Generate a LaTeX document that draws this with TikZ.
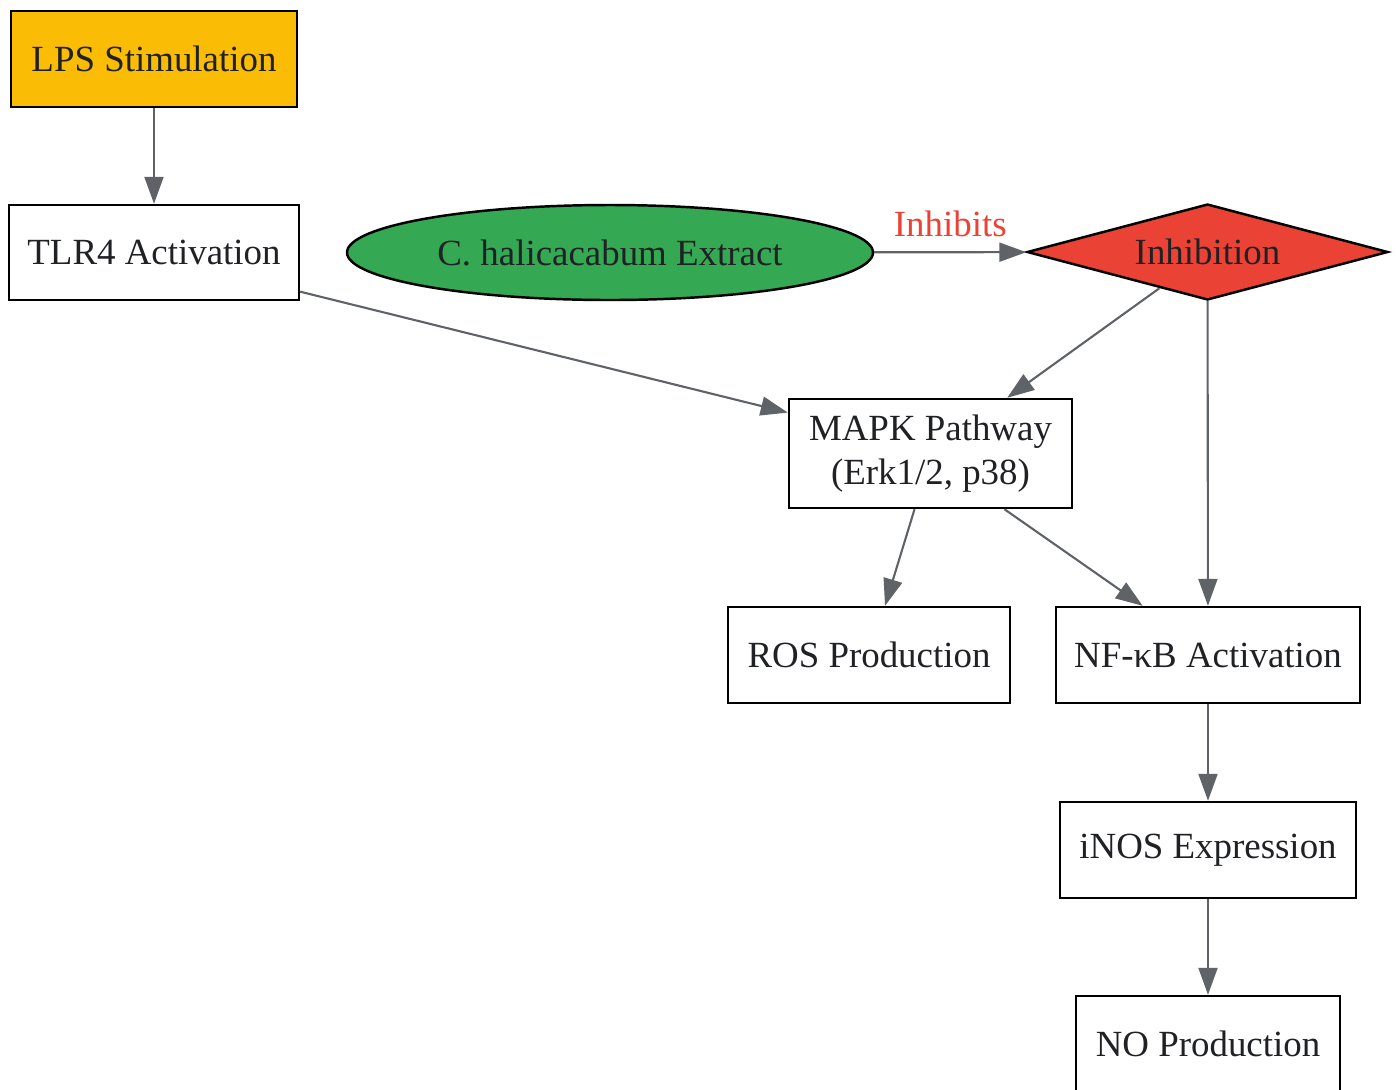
\documentclass[tikz,border=0pt]{standalone}
\usepackage{fontspec}
\setmainfont{Liberation Serif}
\usepackage{tikz}
\usetikzlibrary{
    arrows.meta,
    positioning,
    shapes.geometric,
}
\definecolor{lpsYellow}{HTML}{FBBC05}
\definecolor{extGreen}{HTML}{34A853}
\definecolor{inhRed}{HTML}{EA4335}
\definecolor{edgeGray}{HTML}{5F6368}
\definecolor{txtGray}{HTML}{202124}

\begin{document}
\begin{tikzpicture}[
    font=\fontsize{21}{25}\selectfont,
    stepbox/.style={draw, rectangle, line width=1.4pt, text=txtGray,
                    align=center, inner sep=0pt, minimum height=1.92cm},
    extract/.style={draw, ellipse, line width=1.4pt, fill=extGreen, text=txtGray,
                    inner sep=0pt, minimum width=10.52cm, minimum height=1.9cm},
    inhibit/.style={draw, diamond, aspect=3.76, line width=1.4pt, fill=inhRed,
                    text=txtGray, inner sep=0pt, minimum width=7.22cm, minimum height=1.92cm},
    flow/.style={draw=edgeGray, line width=1.2pt,
                 -{Triangle[length=5.4mm, width=3.8mm, fill=edgeGray]}},
    lbl/.style={text=inhRed}
]

\useasboundingbox (0,0) rectangle (27.92,-21.78);

\node[stepbox, fill=lpsYellow, minimum width=5.72cm] (lpsStim) at (3.08,-1.18) {LPS Stimulation};
\node[stepbox, minimum width=5.8cm, minimum height=1.9cm] (tlrAct) at (3.08,-5.05) {TLR4 Activation};
\node[extract] (chExtract) at (12.2,-5.05) {C. halicacabum Extract};
\node[inhibit] (inhNode) at (24.15,-5.04) {Inhibition};
\node[stepbox, minimum width=5.66cm, minimum height=2.18cm] (mapkPath) at (18.61,-9.07)
    {MAPK Pathway\\(Erk1/2, p38)};
\node[stepbox, minimum width=5.64cm] (rosProd) at (17.38,-13.1) {ROS Production};
\node[stepbox, minimum width=6.08cm] (nfkbAct) at (24.16,-13.1) {NF-κB Activation};
\node[stepbox, minimum width=5.92cm] (inosExp) at (24.16,-17.0) {iNOS Expression};
\node[stepbox, minimum width=5.28cm] (noProd) at (24.16,-20.88) {NO Production};

\draw[flow] (lpsStim) -- (tlrAct);
\draw[flow] (tlrAct.-15.8) -- (mapkPath.164);
\draw[flow] (chExtract) -- node[lbl, above=5pt] {Inhibits} (inhNode);
\draw[flow] (inhNode.-143.1) -- (mapkPath.36.4);
\draw[flow] (inhNode) -- (nfkbAct);
\draw[flow] (mapkPath.-106.6) -- (rosProd.72.3);
\draw[flow] (mapkPath.-37.2) -- (nfkbAct.143.7);
\draw[flow] (nfkbAct) -- (inosExp);
\draw[flow] (inosExp) -- (noProd);

\end{tikzpicture}
\end{document}
